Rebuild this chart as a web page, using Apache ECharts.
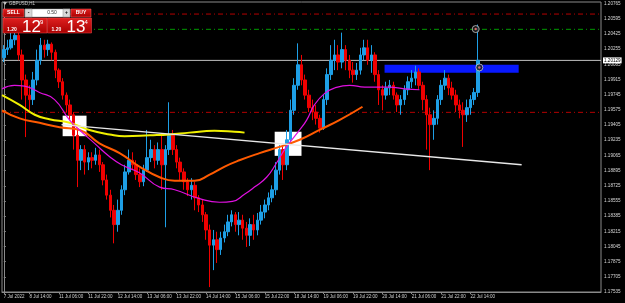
<!DOCTYPE html>
<html><head><meta charset="utf-8">
<script src="https://cdn.jsdelivr.net/npm/echarts@6/dist/echarts.min.js"></script>
<style>html,body{margin:0;padding:0;background:#000;}#c{width:625px;height:303px;}</style>
</head><body><div id="c"></div><script>
// ---- data ----
const dayNames = ['8 Jul','11 Jul','12 Jul','13 Jul','14 Jul','15 Jul','18 Jul','19 Jul','20 Jul','21 Jul','22 Jul'];
const hourNames = ['00:00','02:00','04:00','06:00','08:00','10:00','12:00','14:00','16:00','18:00','20:00','22:00'];
const firstLabel = '7 Jul 2022';
const labelIdx = [0,7,15,23,31,39,47,55,63,71,79,87,95,103,111,119,127];
// [open, close, low, high]
const candles = [
[1.2016,1.2025,1.2011,1.2030],[1.2025,1.2027,1.2019,1.2036],[1.2027,1.2036,1.2025,1.2045],[1.2036,1.2041,1.2030,1.2047],
[1.2041,1.2019,1.2013,1.2044],[1.2019,1.1991,1.1969,1.2025],[1.1991,1.1974,1.1927,1.1997],[1.1974,1.1969,1.1955,1.1985],
[1.1969,1.1991,1.1963,1.2000],[1.1991,1.2013,1.1985,1.2025],[1.2013,1.2030,1.2008,1.2038],[1.2030,1.2025,1.2016,1.2036],
[1.2025,1.2031,1.2018,1.2036],[1.2031,1.2022,1.2013,1.2033],[1.2022,1.2002,1.1993,1.2025],[1.2002,1.1989,1.1982,1.2004],
[1.1989,1.1974,1.1969,1.1993],[1.1974,1.1963,1.1955,1.1977],[1.1963,1.1952,1.1946,1.1969],[1.1952,1.1929,1.1913,1.1955],
[1.1929,1.1901,1.1871,1.1935],[1.1901,1.1913,1.1890,1.1918],[1.1913,1.1899,1.1885,1.1918],[1.1899,1.1904,1.1890,1.1910],
[1.1904,1.1901,1.1892,1.1910],[1.1901,1.1907,1.1896,1.1915],[1.1907,1.1896,1.1888,1.1913],[1.1896,1.1879,1.1873,1.1899],
[1.1879,1.1862,1.1857,1.1885],[1.1862,1.1845,1.1837,1.1868],[1.1845,1.1829,1.1808,1.1851],[1.1829,1.1845,1.1821,1.1857],
[1.1845,1.1868,1.1840,1.1873],[1.1868,1.1888,1.1862,1.1896],[1.1888,1.1901,1.1885,1.1913],[1.1901,1.1896,1.1890,1.1910],
[1.1896,1.1885,1.1879,1.1901],[1.1885,1.1877,1.1871,1.1892],[1.1877,1.1890,1.1872,1.1896],[1.1890,1.1904,1.1888,1.1935],
[1.1904,1.1913,1.1899,1.1924],[1.1913,1.1901,1.1892,1.1918],[1.1901,1.1913,1.1896,1.1921],[1.1913,1.1896,1.1868,1.1929],
[1.1896,1.1913,1.1826,1.1918],[1.1913,1.1929,1.1907,1.1966],[1.1929,1.1913,1.1907,1.1935],[1.1913,1.1899,1.1892,1.1918],
[1.1899,1.1888,1.1879,1.1904],[1.1888,1.1877,1.1868,1.1892],[1.1877,1.1868,1.1861,1.1881],[1.1868,1.1873,1.1857,1.1881],
[1.1873,1.1859,1.1845,1.1877],[1.1859,1.1851,1.1843,1.1862],[1.1851,1.1840,1.1832,1.1857],[1.1840,1.1823,1.1812,1.1843],
[1.1823,1.1806,1.1759,1.1829],[1.1806,1.1812,1.1778,1.1823],[1.1812,1.1801,1.1786,1.1821],[1.1801,1.1814,1.1795,1.1821],
[1.1814,1.1821,1.1809,1.1829],[1.1821,1.1832,1.1816,1.1840],[1.1832,1.1840,1.1827,1.1845],[1.1840,1.1829,1.1821,1.1843],
[1.1829,1.1834,1.1817,1.1843],[1.1834,1.1825,1.1812,1.1840],[1.1825,1.1817,1.1804,1.1832],[1.1817,1.1829,1.1805,1.1836],
[1.1829,1.1823,1.1812,1.1840],[1.1823,1.1834,1.1817,1.1842],[1.1834,1.1843,1.1829,1.1851],[1.1843,1.1851,1.1836,1.1857],
[1.1851,1.1859,1.1845,1.1865],[1.1859,1.1868,1.1854,1.1873],[1.1868,1.1890,1.1862,1.1899],[1.1890,1.1913,1.1885,1.1918],
[1.1913,1.1896,1.1879,1.1918],[1.1896,1.1924,1.1890,1.1935],[1.1924,1.1957,1.1918,1.1969],[1.1957,1.1985,1.1952,1.1993],
[1.1985,1.2008,1.1980,1.2032],[1.2008,1.1991,1.1985,1.2019],[1.1991,1.1974,1.1969,1.1997],[1.1974,1.1960,1.1955,1.1980],
[1.1960,1.1955,1.1946,1.1969],[1.1955,1.1948,1.1941,1.1963],[1.1948,1.1937,1.1932,1.1952],[1.1937,1.1969,1.1935,1.1974],
[1.1969,1.1997,1.1963,1.2004],[1.1997,1.2013,1.1991,1.2030],[1.2013,1.2019,1.2002,1.2036],[1.2019,1.2011,1.2002,1.2030],
[1.2011,1.2025,1.2004,1.2044],[1.2025,1.2013,1.2002,1.2030],[1.2013,1.2002,1.1993,1.2019],[1.2002,1.1997,1.1988,1.2011],
[1.1997,1.2002,1.1991,1.2010],[1.2002,1.2019,1.1997,1.2027],[1.2019,1.2027,1.2013,1.2036],[1.2027,1.2013,1.2008,1.2036],
[1.2013,1.2019,1.1999,1.2030],[1.2019,1.1997,1.1989,1.2022],[1.1997,1.1980,1.1963,1.2002],[1.1980,1.1974,1.1957,1.1985],
[1.1974,1.1982,1.1969,1.1989],[1.1982,1.1985,1.1974,1.1991],[1.1985,1.1974,1.1969,1.1989],[1.1974,1.1963,1.1955,1.1977],
[1.1963,1.1969,1.1952,1.1974],[1.1969,1.1980,1.1963,1.1985],[1.1980,1.1989,1.1974,1.1995],[1.1989,1.1993,1.1982,1.2002],
[1.1993,1.2000,1.1985,1.2007],[1.2000,1.1985,1.1980,1.2004],[1.1985,1.1969,1.1957,1.1989],[1.1969,1.1952,1.1913,1.1974],
[1.1952,1.1941,1.1890,1.1960],[1.1941,1.1948,1.1924,1.1957],[1.1948,1.1969,1.1941,1.1974],[1.1969,1.1985,1.1963,1.1991],
[1.1985,1.1993,1.1980,1.2002],[1.1993,1.1982,1.1974,1.1997],[1.1982,1.1974,1.1969,1.1989],[1.1974,1.1963,1.1955,1.1980],
[1.1963,1.1957,1.1948,1.1969],[1.1957,1.1952,1.1916,1.1966],[1.1952,1.1960,1.1944,1.1969],[1.1960,1.1969,1.1952,1.1974],
[1.1969,1.1977,1.1963,1.1982],[1.1977,1.2013,1.1972,1.2053]
];
// indicator lines: [bar index, price]
const maOrange = [[-0.5,1.1957],[4.3,1.1948],[9.7,1.1943],[15.2,1.1938],[20.6,1.1935],[26.0,1.1920],[31.5,1.1909],[36.9,1.1894],[42.4,1.1882],[46.5,1.1878],[51.9,1.1878],[56.0,1.1885],[60.1,1.1894],[64.1,1.1901],[69.6,1.1909],[75.0,1.1916],[80.5,1.1924],[85.9,1.1935],[91.3,1.1946],[97.6,1.1961]];
const maYellow = [[-0.5,1.1974],[4.3,1.1963],[8.4,1.1952],[12.4,1.1947],[17.9,1.1943],[23.3,1.1935],[28.8,1.1930],[32.9,1.1928],[39.7,1.1929],[45.1,1.1930],[50.5,1.1932],[57.3,1.1934],[62.8,1.1933],[65.5,1.1932]];
const maMagenta = [[-0.5,1.1981],[2.9,1.1985],[5.6,1.1984],[9.7,1.1977],[13.8,1.1969],[17.9,1.1946],[20.6,1.1935],[24.7,1.1920],[28.8,1.1905],[32.0,1.1896],[36.9,1.1887],[42.4,1.1871],[46.5,1.1868],[53.3,1.1858],[58.7,1.1854],[62.2,1.1855],[65.5,1.1863],[68.2,1.1871],[71.5,1.1882],[74.2,1.1898],[76.9,1.1916],[80.5,1.1935],[82.4,1.1946],[84.5,1.1963],[87.3,1.1976],[90.0,1.1982],[94.1,1.1985],[98.2,1.1983],[105.0,1.1983],[109.0,1.1981],[113.1,1.1980]];
const trendLine = [[15.7,1.1941],[140.9,1.1896]];
const whiteBoxes = [[[16.0,1.1951],[22.5,1.1928]],[[73.7,1.1933],[81.0,1.1906]]];
const blueBox = [[103.6,1.2008],[140.1,1.1999]];
const redLevels = [1.20648, 1.19547];
const greenLevel = 1.20477;
const bid = 1.20129, ask = 1.20134;
const tradeMarks = [[128.4,1.2048],[129.4,1.2005]];
const yMin = 1.17535, yMax = 1.20783, yStep = 0.0017;
const totalSlots = 163;

// ---- build ----
const categories = [];
dayNames.forEach(d => hourNames.forEach(h => categories.push(d + ' ' + h)));
categories.length = candles.length;
for (let i = candles.length; i < totalSlots; i++) categories.push('s' + i);

const chart = echarts.init(document.getElementById('c'), null, {renderer:'canvas'});
const F = 'Liberation Sans';
const dashDot = [5,3,1,3];
const xLo = -0.5, xHi = totalSlots - 0.5;
function levelSeries(v, color){
  return {type:'line', xAxisIndex:1, data:[[xLo, v],[xHi, v]], showSymbol:false, silent:true, z:1,
          lineStyle:{color, width:1, type:dashDot}};
}

const panel = [];
const red = new echarts.graphic.LinearGradient(0,0,0,1,[{offset:0,color:'#e02020'},{offset:1,color:'#a80000'}]);
function add(el){ el.z = 100; panel.push(el); }
add({type:'polygon', shape:{points:[[3,2],[7,2],[5,5]]}, style:{fill:'#c0c0c0'}});
add({type:'text', x:9, y:1.5, style:{text:'GBPUSD,H1', fill:'#c8c8c8', font:'4.5px '+F}});
add({type:'rect', shape:{x:3,y:9,width:21,height:8}, style:{fill:red, stroke:'#ff6060', lineWidth:0.5}});
add({type:'text', x:13.5, y:13, style:{text:'SELL', fill:'#fff', font:'bold 5px '+F, align:'center', verticalAlign:'middle'}});
add({type:'rect', shape:{x:25,y:9,width:45,height:8}, style:{fill:'#ffffff', stroke:'#909090', lineWidth:0.5}});
add({type:'rect', shape:{x:25,y:9,width:7,height:8}, style:{fill:'#d8d8d8', stroke:'#909090', lineWidth:0.5}});
add({type:'rect', shape:{x:63,y:9,width:7,height:8}, style:{fill:'#d8d8d8', stroke:'#909090', lineWidth:0.5}});
add({type:'text', x:28.5, y:13, style:{text:'-', fill:'#000', font:'bold 5px '+F, align:'center', verticalAlign:'middle'}});
add({type:'text', x:66.5, y:13, style:{text:'+', fill:'#000', font:'bold 5px '+F, align:'center', verticalAlign:'middle'}});
add({type:'text', x:52, y:13, style:{text:'0.50', fill:'#333', font:'5px '+F, align:'center', verticalAlign:'middle'}});
add({type:'rect', shape:{x:71,y:9,width:20,height:8}, style:{fill:red, stroke:'#ff6060', lineWidth:0.5}});
add({type:'text', x:81, y:13, style:{text:'BUY', fill:'#fff', font:'bold 5px '+F, align:'center', verticalAlign:'middle'}});
function priceBox(x, price){
  const s = price.toFixed(5);
  add({type:'rect', shape:{x:x,y:18,width:44,height:15}, style:{fill:red, stroke:'#ff5050', lineWidth:0.5}});
  add({type:'text', x:x+4, y:27, style:{text:s.slice(0,4), fill:'#fff', font:'bold 5px '+F}});
  add({type:'text', x:x+19, y:18.5, style:{text:s.slice(4,6), fill:'#fff', font:'17px '+F}});
  add({type:'text', x:x+37, y:19.5, style:{text:s.slice(6), fill:'#fff', font:'6px '+F}});
}
priceBox(3, bid); priceBox(47.5, ask);

chart.setOption({
  animation:false,
  backgroundColor:'#000',
  grid:{left:2, right:24, top:2, bottom:11, show:true, borderColor:'#8a8a8a', borderWidth:1, backgroundColor:'#000'},
  xAxis:[{
    type:'category', data:categories, boundaryGap:true,
    axisLine:{show:true, lineStyle:{color:'#8a8a8a'}},
    axisTick:{show:true, alignWithLabel:true, length:2, interval:(i)=>labelIdx.includes(i), lineStyle:{color:'#8a8a8a'}},
    axisLabel:{interval:(i)=>labelIdx.includes(i), formatter:(v,i)=> i===0 ? firstLabel : v, color:'#d0d0d0', fontSize:4.5, fontFamily:F, align:'left', margin:2.5, hideOverlap:false},
    splitLine:{show:false}
  },{
    type:'value', min:xLo, max:xHi, show:false
  }],
  yAxis:{
    type:'value', position:'right', min:yMin, max:yMax, interval:yStep, scale:true,
    axisLine:{show:true, lineStyle:{color:'#8a8a8a'}},
    axisTick:{show:true, length:2, lineStyle:{color:'#8a8a8a'}},
    axisLabel:{formatter:(v)=>v.toFixed(5), color:'#d8d8d8', fontSize:4.6, fontFamily:F, margin:3},
    splitLine:{show:false}
  },
  series:[
    {type:'line', xAxisIndex:1, data:[], z:1, silent:true,
     markArea:{silent:true, itemStyle:{color:'#ffffff', opacity:1},
       data: whiteBoxes.map(b=>[{coord:b[0]},{coord:b[1]}])}
    },
    levelSeries(redLevels[0], '#b40000'),
    levelSeries(redLevels[1], '#b40000'),
    levelSeries(greenLevel, '#009a00'),
    {type:'line', xAxisIndex:1, data:[[xLo,bid],[xHi,bid]], showSymbol:false, silent:true, z:1,
     lineStyle:{color:'#c0c0c0', width:1},
     endLabel:{show:true, formatter:()=>bid.toFixed(5), backgroundColor:'#ffffff', color:'#000', fontSize:4.6, fontFamily:F, padding:[1,1,0,1], distance:2}},
    {type:'candlestick', data:candles, barWidth:3, z:2,
     itemStyle:{color:'#1e9fe6', color0:'#f00000', borderColor:'#1e9fe6', borderColor0:'#f00000', borderWidth:1}},
    {type:'line', xAxisIndex:1, data:maYellow, smooth:true, showSymbol:false, z:3, lineStyle:{color:'#f0f000', width:2}},
    {type:'line', xAxisIndex:1, data:maOrange, smooth:true, showSymbol:false, z:3, lineStyle:{color:'#ff5a00', width:2}},
    {type:'line', xAxisIndex:1, data:maMagenta, smooth:true, showSymbol:false, z:3, lineStyle:{color:'#e010e0', width:1.2}},
    {type:'line', xAxisIndex:1, data:trendLine, showSymbol:false, z:4, lineStyle:{color:'#e8e8e8', width:1.3}},
    {type:'line', xAxisIndex:1, data:[], z:5, silent:true,
     markArea:{silent:true, itemStyle:{color:'#0818ff', opacity:1}, data:[[{coord:blueBox[0]},{coord:blueBox[1]}]]}},
    {type:'scatter', xAxisIndex:1, data:tradeMarks, symbol:'circle', symbolSize:7, z:6,
     itemStyle:{color:'#1a1a1a', borderColor:'#c8c8c8', borderWidth:1}},
    {type:'scatter', xAxisIndex:1, data:tradeMarks, symbol:'circle', symbolSize:2.5, z:7,
     itemStyle:{color:'#ff8080'}}
  ],
  graphic: panel
});
</script></body></html>
